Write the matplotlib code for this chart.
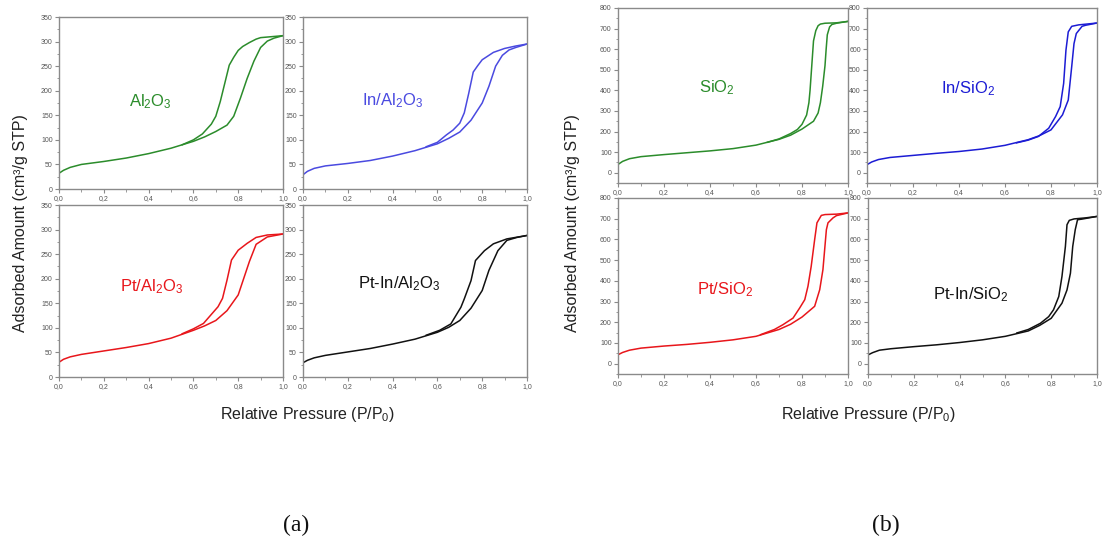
import matplotlib
matplotlib.use("Agg")
import matplotlib.pyplot as plt
from matplotlib.ticker import MultipleLocator, FuncFormatter

plt.rcParams["font.family"] = ["Liberation Sans", "DejaVu Sans"]
plt.rcParams["mathtext.default"] = "regular"

W, H = 1102, 540

# --- isotherm data ---
al2o3_ads_p = [0.0, 0.02, 0.05, 0.1, 0.2, 0.3, 0.4, 0.5, 0.6, 0.65, 0.7, 0.75, 0.78, 0.81, 0.84, 0.87, 0.9, 0.93, 0.96, 1.0]
al2o3_ads_v = [32, 38, 44, 50, 56, 63, 72, 83, 97, 106, 117, 130, 148, 185, 225, 260, 288, 301, 307, 312]
al2o3_des_p = [1.0, 0.95, 0.9, 0.88, 0.85, 0.82, 0.8, 0.78, 0.76, 0.74, 0.72, 0.7, 0.68, 0.64, 0.6, 0.55]
al2o3_des_v = [312, 310, 308, 305, 298, 290, 282, 268, 252, 215, 178, 148, 132, 112, 100, 90]

in_al_ads_p = [0.0, 0.02, 0.05, 0.1, 0.2, 0.3, 0.4, 0.5, 0.6, 0.65, 0.7, 0.75, 0.8, 0.83, 0.86, 0.89, 0.92, 0.95, 1.0]
in_al_ads_v = [29, 36, 42, 47, 52, 58, 67, 78, 92, 103, 116, 140, 175, 209, 250, 272, 283, 288, 295]
in_al_des_p = [1.0, 0.95, 0.9, 0.85, 0.8, 0.78, 0.76, 0.74, 0.72, 0.7, 0.67, 0.64, 0.6, 0.55]
in_al_des_v = [295, 291, 286, 278, 263, 251, 238, 195, 155, 134, 120, 110, 95, 86]

pt_al_ads_p = [0.0, 0.02, 0.05, 0.1, 0.2, 0.3, 0.4, 0.5, 0.6, 0.65, 0.7, 0.75, 0.8, 0.85, 0.88, 0.93, 1.0]
pt_al_ads_v = [30, 36, 41, 46, 53, 60, 68, 79, 95, 104, 115, 135, 167, 235, 270, 285, 291]
pt_al_des_p = [1.0, 0.93, 0.88, 0.84, 0.8, 0.77, 0.75, 0.73, 0.71, 0.645, 0.6, 0.55]
pt_al_des_v = [291, 289, 284, 272, 258, 238, 197, 160, 143, 109, 98, 88]

ptin_al_ads_p = [0.0, 0.02, 0.05, 0.1, 0.2, 0.3, 0.4, 0.5, 0.6, 0.65, 0.7, 0.75, 0.8, 0.83, 0.87, 0.91, 0.955, 1.0]
ptin_al_ads_v = [29, 34, 39, 44, 51, 58, 67, 77, 91, 101, 115, 140, 176, 217, 257, 278, 284, 288]
ptin_al_des_p = [1.0, 0.91, 0.85, 0.81, 0.77, 0.75, 0.72, 0.705, 0.66, 0.61, 0.55]
ptin_al_des_v = [288, 281, 271, 257, 237, 196, 159, 142, 108, 95, 85]

sio2_ads_p = [0.0, 0.02, 0.05, 0.1, 0.2, 0.3, 0.4, 0.5, 0.6, 0.7, 0.75, 0.8, 0.85, 0.87, 0.88, 0.89, 0.9, 0.905, 0.91, 0.92, 0.93, 0.95, 1.0]
sio2_ads_v = [40, 55, 68, 78, 88, 97, 106, 117, 134, 162, 182, 212, 250, 290, 340, 420, 520, 600, 670, 708, 720, 726, 735]
sio2_des_p = [1.0, 0.95, 0.9, 0.88, 0.87, 0.86, 0.85, 0.845, 0.84, 0.835, 0.83, 0.82, 0.8, 0.78, 0.75, 0.7, 0.65]
sio2_des_v = [735, 728, 726, 722, 714, 690, 640, 560, 480, 400, 340, 280, 235, 210, 190, 164, 148]

in_si_ads_p = [0.0, 0.02, 0.05, 0.1, 0.2, 0.3, 0.4, 0.5, 0.6, 0.7, 0.75, 0.8, 0.85, 0.875, 0.89, 0.9, 0.91, 0.935, 0.95, 1.0]
in_si_ads_v = [39, 52, 64, 74, 84, 94, 103, 115, 133, 160, 180, 208, 281, 353, 515, 627, 676, 711, 716, 727]
in_si_des_p = [1.0, 0.92, 0.89, 0.875, 0.865, 0.855, 0.84, 0.82, 0.79, 0.745, 0.7, 0.65]
in_si_des_v = [727, 718, 711, 684, 595, 434, 321, 273, 216, 176, 158, 145]

pt_si_ads_p = [0.0, 0.02, 0.05, 0.1, 0.2, 0.3, 0.4, 0.5, 0.6, 0.7, 0.75, 0.8, 0.855, 0.877, 0.891, 0.906, 0.913, 0.935, 0.95, 1.0]
pt_si_ads_v = [43, 54, 65, 75, 85, 93, 103, 115, 132, 165, 190, 225, 277, 357, 454, 647, 680, 704, 715, 728]
pt_si_des_p = [1.0, 0.95, 0.9, 0.884, 0.865, 0.855, 0.84, 0.826, 0.812, 0.79, 0.761, 0.717, 0.68, 0.62]
pt_si_des_v = [728, 722, 720, 716, 680, 599, 470, 374, 309, 269, 220, 188, 165, 140]

ptin_si_ads_p = [0.0, 0.02, 0.05, 0.1, 0.2, 0.3, 0.4, 0.5, 0.6, 0.7, 0.75, 0.8, 0.847, 0.869, 0.884, 0.894, 0.905, 0.915, 0.934, 1.0]
ptin_si_ads_v = [42, 53, 65, 72, 82, 91, 102, 115, 132, 158, 185, 219, 292, 356, 437, 566, 647, 695, 698, 711]
ptin_si_des_p = [1.0, 0.95, 0.9, 0.879, 0.869, 0.862, 0.847, 0.833, 0.81, 0.789, 0.753, 0.7, 0.65]
ptin_si_des_v = [711, 704, 699, 692, 671, 566, 421, 324, 260, 227, 195, 165, 148]

GREEN = "#2b8c2b"
BLUE_A = "#4a4ae0"
BLUE_B = "#1c1cd4"
RED = "#e8161b"
BLACK = "#111111"

# (rect in px: left, top, right, bottom), label, label pos, colour, data, y-range kind
panels = [
    ((59, 17, 283, 189), r"Al$_2$O$_3$", (0.41, 177), GREEN,
     (al2o3_ads_p, al2o3_ads_v, al2o3_des_p, al2o3_des_v), "a"),
    ((303, 17, 527, 189), r"In/Al$_2$O$_3$", (0.40, 179), BLUE_A,
     (in_al_ads_p, in_al_ads_v, in_al_des_p, in_al_des_v), "a"),
    ((59, 205, 283, 377), r"Pt/Al$_2$O$_3$", (0.415, 183), RED,
     (pt_al_ads_p, pt_al_ads_v, pt_al_des_p, pt_al_des_v), "a"),
    ((303, 205, 527, 377), r"Pt-In/Al$_2$O$_3$", (0.43, 190), BLACK,
     (ptin_al_ads_p, ptin_al_ads_v, ptin_al_des_p, ptin_al_des_v), "a"),
    ((618, 8, 848, 183), r"SiO$_2$", (0.43, 411), GREEN,
     (sio2_ads_p, sio2_ads_v, sio2_des_p, sio2_des_v), "b"),
    ((867, 8, 1097, 183), r"In/SiO$_2$", (0.44, 406), BLUE_B,
     (in_si_ads_p, in_si_ads_v, in_si_des_p, in_si_des_v), "b"),
    ((618, 198, 848, 374), r"Pt/SiO$_2$", (0.465, 358), RED,
     (pt_si_ads_p, pt_si_ads_v, pt_si_des_p, pt_si_des_v), "b"),
    ((868, 198, 1097, 374), r"Pt-In/SiO$_2$", (0.45, 334), BLACK,
     (ptin_si_ads_p, ptin_si_ads_v, ptin_si_des_p, ptin_si_des_v), "b"),
]


def px_rect(x0, y0, x1, y1):
    return [x0 / W, 1 - y1 / H, (x1 - x0) / W, (y1 - y0) / H]


comma = FuncFormatter(lambda v, pos: f"{v:.1f}".replace(".", ","))

fig = plt.figure(figsize=(W / 100, H / 100), dpi=100)

for rect, label, (tx, ty), color, (ap, av, dp, dv), kind in panels:
    ax = fig.add_axes(px_rect(*rect))
    ax.plot(ap, av, color=color, lw=1.1)
    ax.plot(dp, dv, color=color, lw=1.1)
    ax.set_xlim(0, 1)
    ax.xaxis.set_major_locator(MultipleLocator(0.2))
    ax.xaxis.set_minor_locator(MultipleLocator(0.1))
    ax.xaxis.set_major_formatter(comma)
    if kind == "a":
        ax.set_ylim(0, 350)
        ax.yaxis.set_major_locator(MultipleLocator(50))
        ax.yaxis.set_minor_locator(MultipleLocator(25))
    else:
        ax.set_ylim(-50, 800)
        ax.set_yticks(range(0, 801, 100))
        ax.yaxis.set_minor_locator(MultipleLocator(50))
    for s in ax.spines.values():
        s.set_color("#8a8a8a")
        s.set_linewidth(1.0)
    ax.tick_params(which="both", direction="out", colors="#8a8a8a",
                   labelcolor="#555555", labelsize=5, pad=1.5)
    ax.tick_params(which="major", length=3, width=0.8)
    ax.tick_params(which="minor", length=1.8, width=0.6)
    ax.text(tx, ty, label, color=color, fontsize=12, ha="center", va="center")

ylabel = "Adsorbed Amount (cm³/g STP)"
xlabel = r"Relative Pressure (P/P$_0$)"
fig.text(21 / W, 1 - 223 / H, ylabel, rotation=90, fontsize=11.5,
         ha="center", va="center", color="#222222")
fig.text(572 / W, 1 - 223 / H, ylabel, rotation=90, fontsize=11.5,
         ha="center", va="center", color="#222222")
fig.text(308 / W, 1 - 415 / H, xlabel, fontsize=11.5,
         ha="center", va="center", color="#222222")
fig.text(869 / W, 1 - 415 / H, xlabel, fontsize=11.5,
         ha="center", va="center", color="#222222")

fig.text(296 / W, 1 - 525 / H, "(a)", family="Liberation Serif", fontsize=17,
         ha="center", va="center", color="#111111")
fig.text(886 / W, 1 - 525 / H, "(b)", family="Liberation Serif", fontsize=17,
         ha="center", va="center", color="#111111")

fig.savefig("out.png", dpi=100)
